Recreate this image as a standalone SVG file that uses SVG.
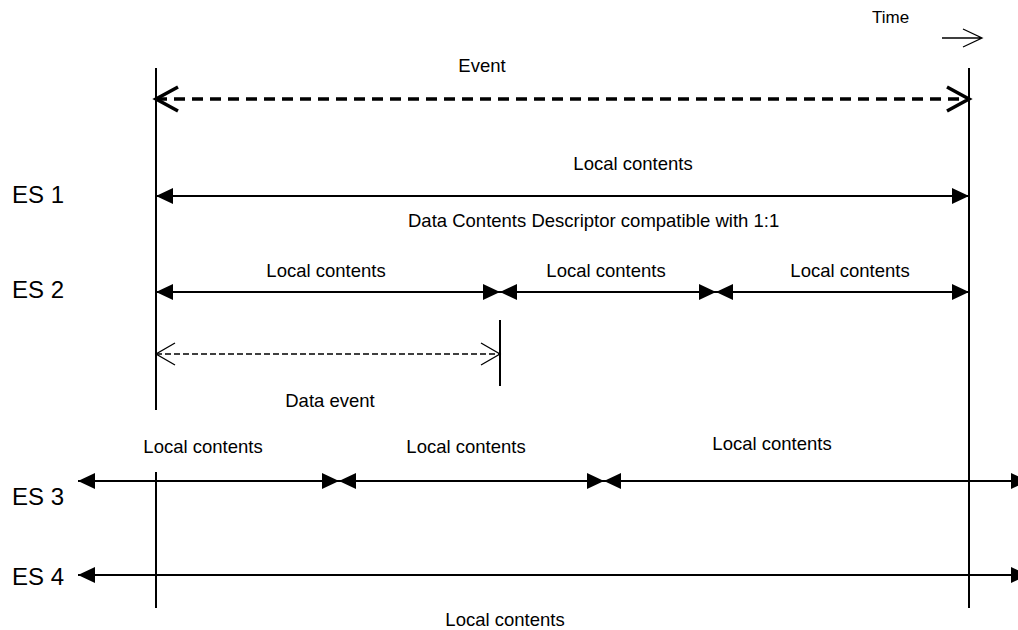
<svg xmlns="http://www.w3.org/2000/svg" width="1018" height="630" viewBox="0 0 1018 630">
  <style>
    .lbl { font-family: "Liberation Sans", Arial, sans-serif; font-size: 18.5px; fill: #000; }
    .es { font-family: "Liberation Sans", Arial, sans-serif; font-size: 24px; fill: #000; }
    .time { font-family: "Liberation Sans", Arial, sans-serif; font-size: 17px; fill: #000; }
    .mid { text-anchor: middle; }
    .guide { stroke: #000; stroke-width: 2; fill: none; }
    .span { stroke: #000; stroke-width: 2; fill: none; marker-start: url(#solid); marker-end: url(#solid); }
    .event { stroke: #000; stroke-width: 3.5; fill: none; stroke-dasharray: 11 7; marker-start: url(#openBig); marker-end: url(#openBig); }
    .dataev { stroke: #000; stroke-width: 1.3; fill: none; stroke-dasharray: 6 3; marker-start: url(#openSmall); marker-end: url(#openSmall); }
  </style>
  <defs>
    <marker id="solid" markerUnits="userSpaceOnUse" markerWidth="18" markerHeight="18" refX="17" refY="8" orient="auto-start-reverse" overflow="visible">
      <path d="M0,0 L17,8 L0,16 Z" fill="#000"/>
    </marker>
    <marker id="openBig" markerUnits="userSpaceOnUse" markerWidth="26" markerHeight="28" refX="22" refY="12" orient="auto-start-reverse" overflow="visible">
      <path d="M0,0 L22,12 L0,24" fill="none" stroke="#000" stroke-width="3.5"/>
    </marker>
    <marker id="openSmall" markerUnits="userSpaceOnUse" markerWidth="22" markerHeight="24" refX="19" refY="11" orient="auto-start-reverse" overflow="visible">
      <path d="M0,0 L19,11 L0,22" fill="none" stroke="#000" stroke-width="1.3"/>
    </marker>
  </defs>

  <rect width="1018" height="630" fill="#fff"/>

  <!-- time direction -->
  <g id="time-axis">
    <text class="time" x="872" y="23">Time</text>
    <path d="M942,38 H982 M963,29 L982,38 L963,47" stroke="#000" stroke-width="1.3" fill="none"/>
  </g>

  <!-- stream labels -->
  <g id="es1"><text class="es" x="12" y="203">ES 1</text></g>
  <g id="es2"><text class="es" x="12" y="298">ES 2</text></g>
  <g id="es3"><text class="es" x="12" y="505">ES 3</text></g>
  <g id="es4"><text class="es" x="12" y="585">ES 4</text></g>

  <!-- event boundaries -->
  <g id="boundaries">
    <line class="guide" x1="156" y1="68" x2="156" y2="410"/>
    <line class="guide" x1="156" y1="472" x2="156" y2="608"/>
    <line class="guide" x1="969" y1="68" x2="969" y2="608"/>
    <line class="guide" x1="500" y1="320" x2="500" y2="386"/>
  </g>

  <g id="connectors">
    <!-- event span -->
    <line class="event" x1="156" y1="99" x2="969" y2="99"/>
    <!-- ES 1 -->
    <line class="span" x1="156" y1="196" x2="969" y2="196"/>
    <!-- ES 2 -->
    <line class="span" x1="156" y1="292" x2="500" y2="292"/>
    <line class="span" x1="500" y1="292" x2="716" y2="292"/>
    <line class="span" x1="716" y1="292" x2="969" y2="292"/>
    <!-- data event -->
    <line class="dataev" x1="156" y1="354" x2="500" y2="354"/>
    <!-- ES 3 -->
    <line class="span" x1="78" y1="481" x2="339" y2="481"/>
    <line class="span" x1="339" y1="481" x2="604" y2="481"/>
    <line class="span" x1="604" y1="481" x2="1028" y2="481"/>
    <!-- ES 4 -->
    <line class="span" x1="78" y1="575" x2="1028" y2="575"/>
  </g>

  <g id="labels">
    <text class="lbl mid" x="482" y="72">Event</text>
    <text class="lbl mid" x="633" y="170">Local contents</text>
    <text class="lbl" x="408" y="227">Data Contents Descriptor compatible with 1:1</text>
    <text class="lbl mid" x="326" y="277">Local contents</text>
    <text class="lbl mid" x="606" y="277">Local contents</text>
    <text class="lbl mid" x="850" y="277">Local contents</text>
    <text class="lbl mid" x="330" y="407">Data event</text>
    <text class="lbl mid" x="203" y="453">Local contents</text>
    <text class="lbl mid" x="466" y="453">Local contents</text>
    <text class="lbl mid" x="772" y="450">Local contents</text>
    <text class="lbl mid" x="505" y="626">Local contents</text>
  </g>
</svg>
